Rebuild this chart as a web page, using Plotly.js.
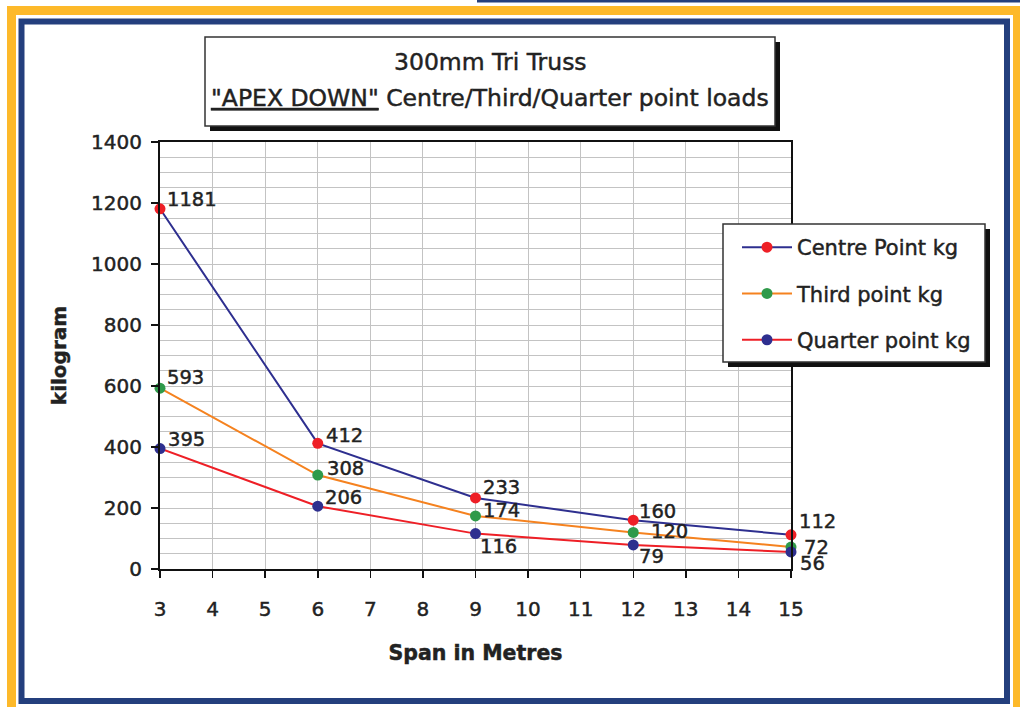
<!DOCTYPE html>
<html><head><meta charset="utf-8">
<script src="https://cdn.plot.ly/plotly-3.0.1.min.js"></script>
<style>html,body{margin:0;padding:0;background:#fff}#chart{width:1020px;height:707px}
#chart text{stroke:#222;stroke-width:0.45px}</style>
</head><body><div id="chart"></div>
<script>
// ---- data ----
const spans = [3, 6, 9, 12, 15];
const centrePoint = [1181, 412, 233, 160, 112];
const thirdPoint = [593, 308, 174, 120, 72];
const quarterPoint = [395, 206, 116, 79, 56];
const seriesNames = ['Centre Point kg', 'Third point kg', 'Quarter point kg'];
const yTickVals = [0, 200, 400, 600, 800, 1000, 1200, 1400];
const xTickVals = [3, 4, 5, 6, 7, 8, 9, 10, 11, 12, 13, 14, 15];
const titleLine1 = '300mm Tri Truss';
const titleLine2 = '<u>"APEX DOWN"</u> Centre/Third/Quarter point loads';
const xTitle = 'Span in Metres';
const yTitle = 'kilogram';

// ---- styling ----
const W = 1020, H = 707;
const M = {l: 160, r: 229, t: 142, b: 138};
const PW = W - M.l - M.r, PH = H - M.t - M.b;
const px = v => (v - M.l) / PW;
const py = v => (H - M.b - v) / PH;
const NAVY = '#2e2f8f', RED = '#ee1f26', ORANGE = '#f5821f', GREEN = '#2f9a4a';
const GOLD = '#fdb92a', BLUE = '#243f7d';
const FONT = 'DejaVu Sans, Arial, sans-serif';
const TXT = '#222';

const seriesValues = [centrePoint, thirdPoint, quarterPoint];
const lineColors = [NAVY, ORANGE, RED];
const markerColors = [RED, GREEN, NAVY];
// label offsets in px: [left-edge dx, centre dy (up positive)]
const labelOffsets = [
  [[7, 9], [8, 8], [7, 10], [6, 9], [8, 13]],
  [[7, 11], [9, 7], [7, 5], [18, 1], [13, 0]],
  [[8, 9], [7, 9], [4, -13], [6, -12], [9, -12]]
];

const traces = seriesValues.map((vals, i) => ({
  x: spans, y: vals, name: seriesNames[i], type: 'scatter', mode: 'lines+markers',
  line: {color: lineColors[i], width: 2},
  marker: {color: markerColors[i], size: 11},
  cliponaxis: false, legendgroup: 'g' + i, hoverinfo: 'x+y'
}));

const annotations = [];
seriesValues.forEach((vals, i) => {
  vals.forEach((v, j) => {
    annotations.push({
      x: spans[j], y: v, xref: 'x', yref: 'y', text: String(v), showarrow: false,
      xanchor: 'left', yanchor: 'middle', xshift: labelOffsets[i][j][0] - 2,
      yshift: labelOffsets[i][j][1],
      font: {family: FONT, size: 19.5, color: TXT}
    });
  });
});
annotations.push({
  xref: 'paper', yref: 'paper', x: px(490), y: py(62), text: titleLine1, showarrow: false,
  xanchor: 'center', yanchor: 'middle', font: {family: FONT, size: 23.5, color: TXT}
});
annotations.push({
  xref: 'paper', yref: 'paper', x: px(490), y: py(98), text: titleLine2, showarrow: false,
  xanchor: 'center', yanchor: 'middle', font: {family: FONT, size: 23.5, color: TXT}
});

function rect(x0, y0, x1, y1, fill, lineColor, lw) {
  return {type: 'rect', xref: 'paper', yref: 'paper', x0: px(x0), x1: px(x1), y0: py(y0), y1: py(y1),
    fillcolor: fill, line: {color: lineColor || 'rgba(0,0,0,0)', width: lw || 0}, layer: 'above'};
}
const shapes = [
  rect(11.5, 10.5, 1017.5, 730, 'rgba(0,0,0,0)', GOLD, 9),
  rect(477, 0, 1020, 2.5, BLUE),
  rect(21.5, 21.5, 1007, 701, 'rgba(0,0,0,0)', BLUE, 6),
  rect(210, 42, 780, 131, '#111'),
  rect(205, 37, 775, 126, '#fff', '#333', 1.5),
  rect(728, 229, 990, 367, '#111'),
  rect(723, 224, 985, 362, '#fff', '#333', 1.5)
];

const axisCommon = {
  showline: true, linecolor: '#111', linewidth: 2, mirror: true,
  ticks: 'outside', ticklen: 7, tickwidth: 1.5, tickcolor: '#111',
  showgrid: true, gridcolor: '#c3c3c3', gridwidth: 1, zeroline: false,
  tickfont: {family: FONT, size: 20, color: TXT}, fixedrange: true
};

const layout = {
  width: W, height: H, margin: M, paper_bgcolor: '#fff', plot_bgcolor: '#fff',
  showlegend: true,
  legend: {x: px(737), y: py(227), xanchor: 'left', yanchor: 'top', bgcolor: 'rgba(0,0,0,0)',
    borderwidth: 0, font: {family: FONT, size: 21, color: TXT},
    traceorder: 'grouped', tracegroupgap: 16, itemwidth: 50},
  xaxis: Object.assign({}, axisCommon, {range: [3, 15], tickvals: xTickVals, ticklabelstandoff: 14,
    title: {text: '<b>' + xTitle + '</b>', font: {family: FONT, size: 20.5, color: TXT}, standoff: 26}}),
  yaxis: Object.assign({}, axisCommon, {range: [0, 1400], tickvals: yTickVals, ticklabelstandoff: 5,
    minor: {dtick: 50, showgrid: true, gridcolor: '#c3c3c3', gridwidth: 1, ticks: ''},
    title: {text: '<b>' + yTitle + '</b>', font: {family: FONT, size: 20, color: TXT}, standoff: 19}}),
  annotations: annotations, shapes: shapes
};

Plotly.newPlot('chart', traces, layout, {displayModeBar: false, staticPlot: true});
</script>
</body></html>
